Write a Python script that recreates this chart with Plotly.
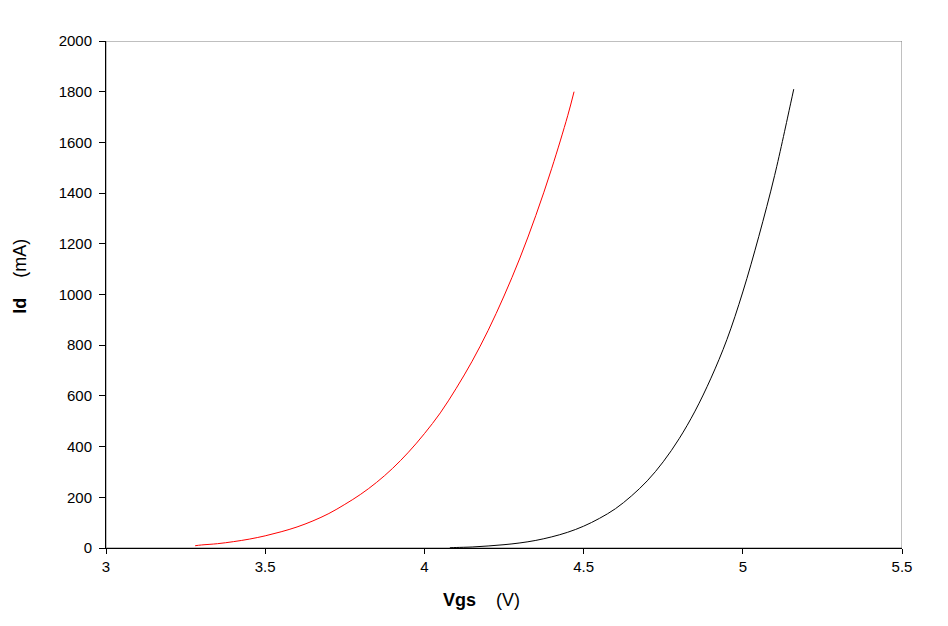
import plotly.graph_objects as go

# Red curve (Vgs in V, Id in mA)
red_vgs = [3.28, 3.30, 3.35, 3.40, 3.45, 3.50, 3.55, 3.60, 3.65, 3.70, 3.75, 3.80, 3.85, 3.90, 3.95,
           4.00, 4.05, 4.10, 4.15, 4.20, 4.25, 4.30, 4.35, 4.40, 4.45, 4.47]
red_id = [9, 12, 17, 25, 35, 48, 64, 83, 107, 136, 172, 212, 259, 314, 378,
          451, 533, 630, 737, 858, 994, 1144, 1312, 1498, 1705, 1800]

# Black curve
black_vgs = [4.08, 4.10, 4.15, 4.20, 4.25, 4.30, 4.35, 4.40, 4.45, 4.50, 4.55, 4.60, 4.65, 4.70,
             4.75, 4.80, 4.85, 4.90, 4.95, 5.00, 5.05, 5.10, 5.15, 5.16]
black_id = [1, 2, 4, 8, 13, 20, 30, 44, 62, 86, 117, 155, 205, 265,
            340, 431, 540, 670, 822, 1010, 1228, 1470, 1752, 1810]

x_ticks = [3, 3.5, 4, 4.5, 5, 5.5]
y_ticks = [0, 200, 400, 600, 800, 1000, 1200, 1400, 1600, 1800, 2000]

FONT = "Liberation Sans, Arial, sans-serif"

fig = go.Figure()
fig.add_trace(go.Scatter(x=red_vgs, y=red_id, mode="lines",
                         line=dict(color="#ff0000", width=1, shape="spline", smoothing=1), showlegend=False))
fig.add_trace(go.Scatter(x=black_vgs, y=black_id, mode="lines",
                         line=dict(color="#000000", width=1, shape="spline", smoothing=1), showlegend=False))

fig.add_shape(type="rect", xref="x", yref="y", x0=3, x1=5.5, y0=0, y1=2000,
              line=dict(color="#808080", width=1), layer="below")

# Axis titles as annotations (positioned as in the reference)
fig.add_annotation(text="<b>Vgs</b>    (V)", xref="paper", yref="paper", x=0.472, y=0,
                   yshift=-52, showarrow=False, xanchor="center", yanchor="middle",
                   font=dict(family=FONT, size=18, color="black"))
fig.add_annotation(text="<b>Id</b>    (mA)", xref="paper", yref="paper", x=0, y=0.535,
                   xshift=-86, showarrow=False, xanchor="center", yanchor="middle", textangle=-90,
                   font=dict(family=FONT, size=18, color="black"))

fig.update_layout(
    width=940, height=618,
    margin=dict(l=98, r=46, t=33, b=78),
    paper_bgcolor="white", plot_bgcolor="white",
    font=dict(family=FONT, size=15, color="black"),
    xaxis=dict(range=[3, 5.5], tickvals=x_ticks, ticktext=[str(v) for v in x_ticks],
               showgrid=False, zeroline=False, showline=True, linecolor="black", linewidth=1,
               ticks="outside", ticklen=5, tickcolor="black"),
    yaxis=dict(range=[0, 2000], tickvals=y_ticks,
               showgrid=False, zeroline=False, showline=True, linecolor="black", linewidth=1,
               ticks="outside", ticklen=6, tickcolor="black", ticklabelstandoff=4),
)

fig.write_html("out.html")
